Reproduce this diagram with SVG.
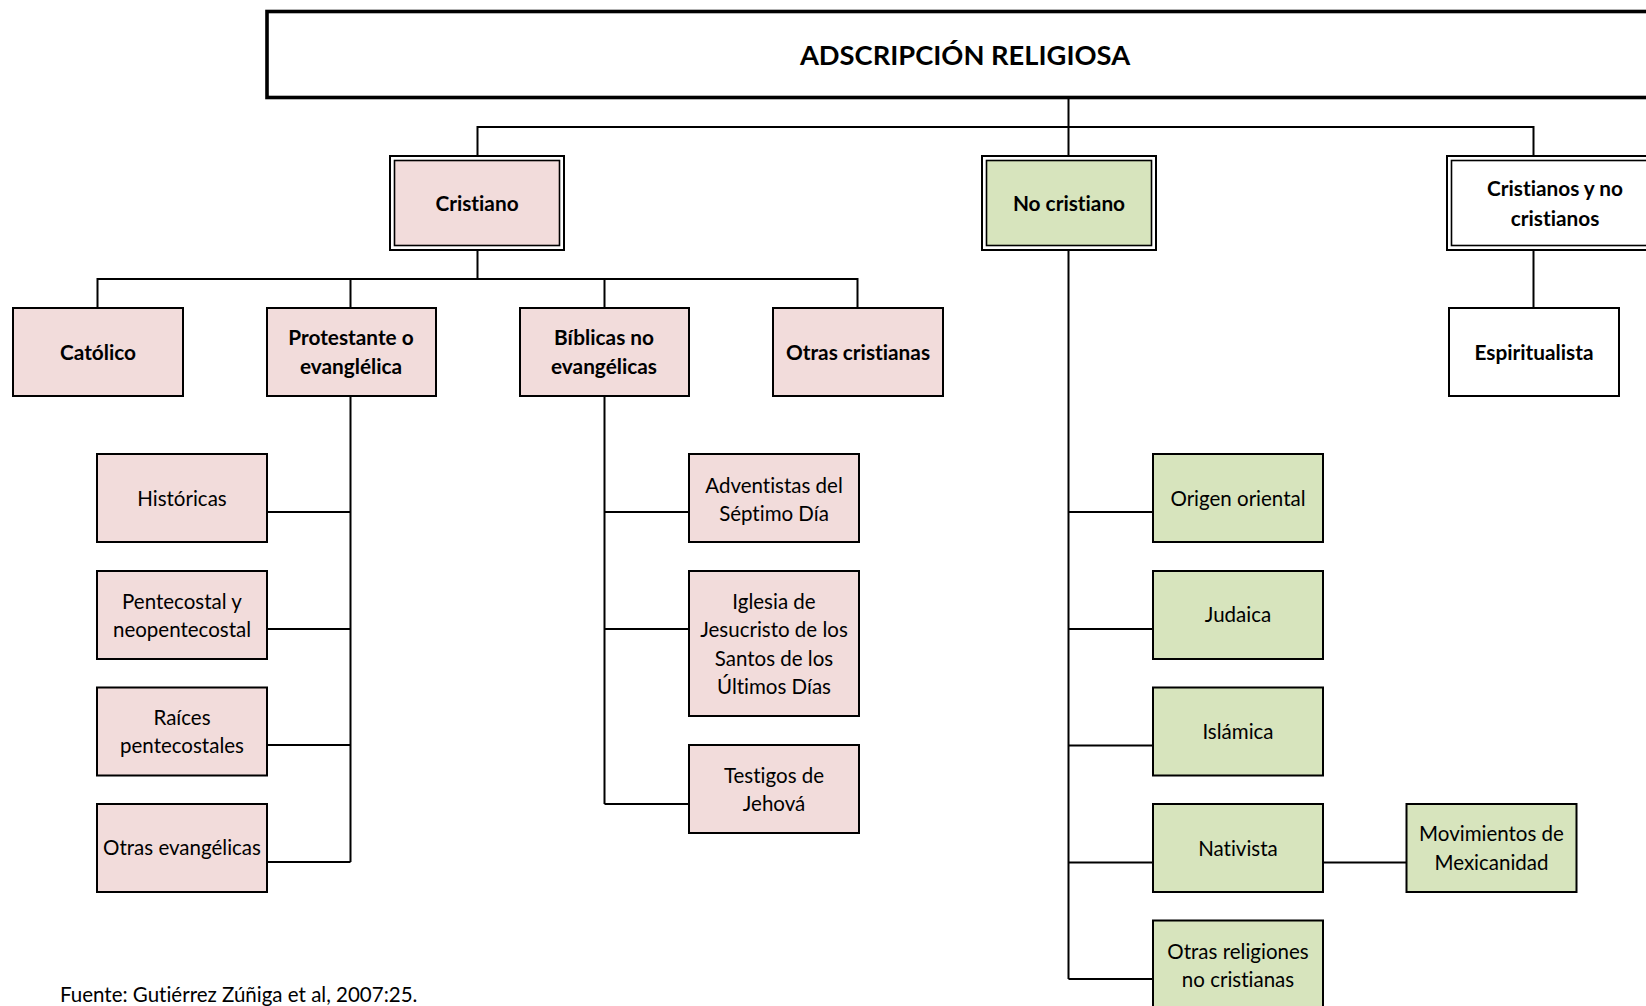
<svg xmlns="http://www.w3.org/2000/svg" width="1646" height="1006" viewBox="0 0 1646 1006">
<style>
.t{font-family:Lato,"Open Sans","Liberation Sans",sans-serif;font-size:20.5px;fill:#000;text-anchor:middle;font-variant-ligatures:none}
.b{font-weight:bold;font-size:20.8px}
.pink{fill:#F2DCDB;stroke:#000;stroke-width:2}
.green{fill:#D7E4BD;stroke:#000;stroke-width:2}
.white{fill:#fff;stroke:#000;stroke-width:2}
.dbl{fill:#fff;stroke:#000;stroke-width:2}
.in{stroke:#000;stroke-width:1.6}
.c{fill:none;stroke:#000;stroke-width:2}
</style>
<rect width="1646" height="1006" fill="#fff"/>
<g id="connectors">
<path class="c" d="M477.5 156V127H1533.5V156M1068.5 99V156"/>
<path class="c" d="M477.5 251V279M97.5 308V279H857.5V308M350.5 279V308M604.5 279V308"/>
<path class="c" d="M350.5 396V862M266.5 512H350.5M266.5 629H350.5M266.5 745H350.5M266.5 862H350.5"/>
<path class="c" d="M604.5 396V804M604.5 512H689M604.5 629H689M604.5 804H689"/>
<path class="c" d="M1068.5 251V979M1068.5 512H1153M1068.5 629H1153M1068.5 745.5H1153M1068.5 862.5H1153M1068.5 979H1153"/>
<path class="c" d="M1323 862.5H1406.5"/>
<path class="c" d="M1533.5 251V308"/>
</g>
<g id="title">
<rect x="267" y="11.5" width="1450" height="86" fill="#fff" stroke="#000" stroke-width="3.6"/>
<text class="t b" x="965" y="64.5" style="font-size:27.3px">ADSCRIPCIÓN RELIGIOSA</text>
</g>
<g id="cristiano">
<rect class="dbl" x="390" y="156" width="174" height="94"/>
<rect class="in" x="394.5" y="160.5" width="165" height="85" fill="#F2DCDB"/>
<text class="t b" x="477" y="210.5">Cristiano</text>
</g>
<g id="no-cristiano">
<rect class="dbl" x="982" y="156" width="174" height="94"/>
<rect class="in" x="986.5" y="160.5" width="165" height="85" fill="#D7E4BD"/>
<text class="t b" x="1069" y="210.5">No cristiano</text>
</g>
<g id="cristianos-y-no-cristianos">
<rect class="dbl" x="1447" y="156" width="215" height="94"/>
<rect class="in" x="1451.5" y="160.5" width="206" height="85" fill="#fff"/>
<text class="t b" x="1555" y="195.5">Cristianos y no</text>
<text class="t b" x="1555" y="225.5">cristianos</text>
</g>
<g id="catolico"><rect class="pink" x="13" y="308" width="170" height="88"/><text class="t b" x="98" y="359.5">Católico</text></g>
<g id="protestante"><rect class="pink" x="267" y="308" width="169" height="88"/><text class="t b" x="351" y="345">Protestante o</text><text class="t b" x="351" y="373.5">evanglélica</text></g>
<g id="biblicas"><rect class="pink" x="520" y="308" width="169" height="88"/><text class="t b" x="604" y="345">Bíblicas no</text><text class="t b" x="604" y="373.5">evangélicas</text></g>
<g id="otras-cristianas"><rect class="pink" x="773" y="308" width="170" height="88"/><text class="t b" x="858" y="359.5">Otras cristianas</text></g>
<g id="espiritualista"><rect class="white" x="1449" y="308" width="170" height="88"/><text class="t b" x="1534" y="359.5">Espiritualista</text></g>
<g id="historicas"><rect class="pink" x="97" y="454" width="170" height="88"/><text class="t" x="182" y="505.5">Históricas</text></g>
<g id="pentecostal"><rect class="pink" x="97" y="571" width="170" height="88"/><text class="t" x="182" y="608.5">Pentecostal y</text><text class="t" x="182" y="636.5">neopentecostal</text></g>
<g id="raices"><rect class="pink" x="97" y="687.5" width="170" height="88"/><text class="t" x="182" y="724.5">Raíces</text><text class="t" x="182" y="752.5">pentecostales</text></g>
<g id="otras-evangelicas"><rect class="pink" x="97" y="804" width="170" height="88"/><text class="t" x="182" y="854.5">Otras evangélicas</text></g>
<g id="adventistas"><rect class="pink" x="689" y="454" width="170" height="88"/><text class="t" x="774" y="492.5">Adventistas del</text><text class="t" x="774" y="520.5">Séptimo Día</text></g>
<g id="iglesia"><rect class="pink" x="689" y="571" width="170" height="145"/><text class="t" x="774" y="608.5">Iglesia de</text><text class="t" x="774" y="637">Jesucristo de los</text><text class="t" x="774" y="665.5">Santos de los</text><text class="t" x="774" y="694">Últimos Días</text></g>
<g id="testigos"><rect class="pink" x="689" y="745" width="170" height="88"/><text class="t" x="774" y="782.5">Testigos de</text><text class="t" x="774" y="810.5">Jehová</text></g>
<g id="origen-oriental"><rect class="green" x="1153" y="454" width="170" height="88"/><text class="t" x="1238" y="505.5">Origen oriental</text></g>
<g id="judaica"><rect class="green" x="1153" y="571" width="170" height="88"/><text class="t" x="1238" y="621.5">Judaica</text></g>
<g id="islamica"><rect class="green" x="1153" y="687.5" width="170" height="88"/><text class="t" x="1238" y="738.5">Islámica</text></g>
<g id="nativista"><rect class="green" x="1153" y="804" width="170" height="88"/><text class="t" x="1238" y="855.5">Nativista</text></g>
<g id="otras-religiones"><rect class="green" x="1153" y="920.5" width="170" height="88"/><text class="t" x="1238" y="958.5">Otras religiones</text><text class="t" x="1238" y="987">no cristianas</text></g>
<g id="mexicanidad"><rect class="green" x="1406.5" y="804" width="170" height="88"/><text class="t" x="1491.5" y="841">Movimientos de</text><text class="t" x="1491.5" y="869.5">Mexicanidad</text></g>
<text class="t" x="60" y="1002" style="text-anchor:start">Fuente: Gutiérrez Zúñiga et al, 2007:25.</text>
</svg>
